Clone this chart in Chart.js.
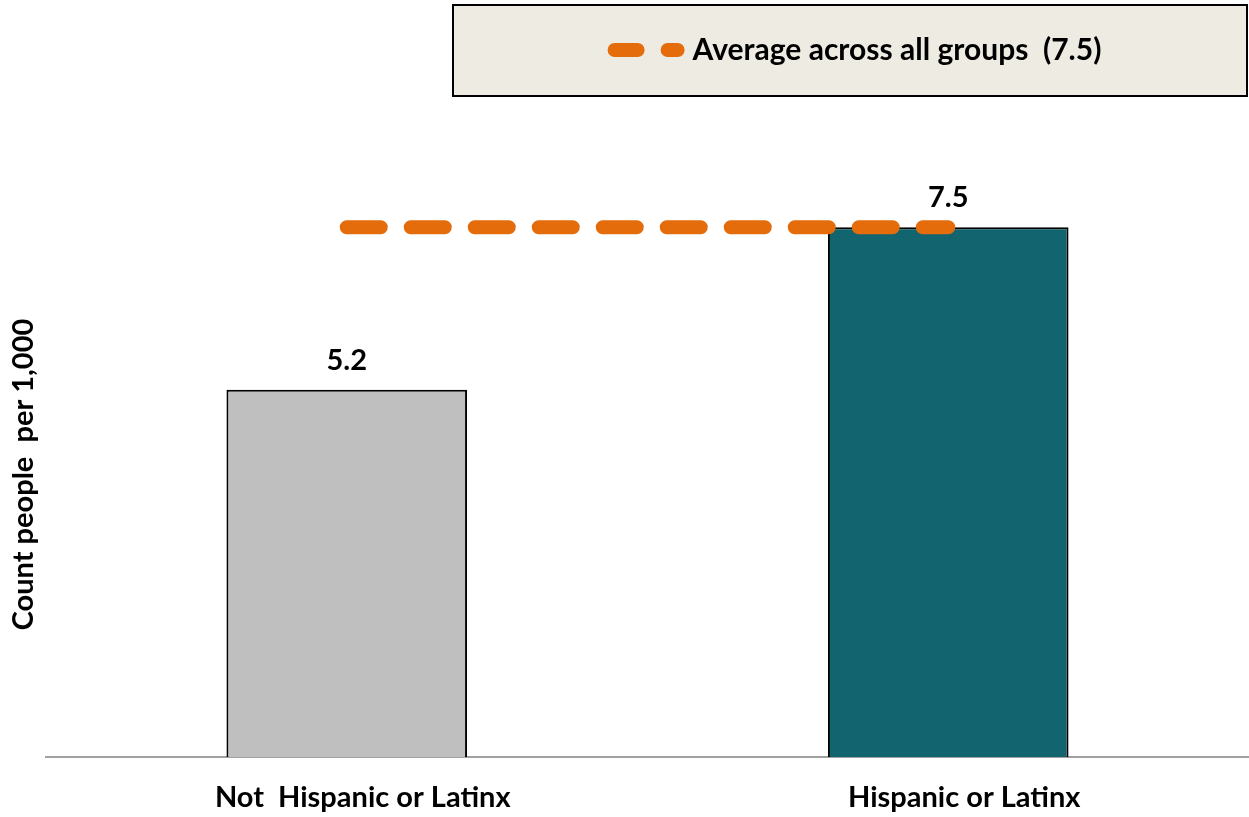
<!DOCTYPE html>
<html>
<head>
<meta charset="utf-8">
<script src="https://cdn.jsdelivr.net/npm/chart.js@4.4.1/dist/chart.umd.min.js"></script>
<style>
  html, body { margin: 0; padding: 0; background: #fff; }
  canvas { display: block; }
</style>
</head>
<body>
<canvas id="chart" width="1249" height="817"></canvas>
<script>
const categories = ['Not  Hispanic or Latinx', 'Hispanic or Latinx'];
const rates = [5.2, 7.5];
const averageRate = 7.5;
const barColors = ['#BFBFBF', '#12646F'];
const averageLabel = 'Average across all groups  (' + averageRate + ')';

const FONT = "Lato, 'Noto Sans', sans-serif";
const ORANGE = '#E46C0A';

// legend lives in a shaded box in the top right corner
const legendBox = {
  id: 'legendBox',
  afterLayout(chart) {
    const lg = chart.legend;
    lg.left = 469;
    lg.right = 1247;
    lg.top = 5;
    lg.bottom = 96;
  },
  beforeDraw(chart) {
    const ctx = chart.ctx;
    ctx.save();
    ctx.fillStyle = '#EEEBE3';
    ctx.fillRect(453, 5, 794, 91);
    ctx.strokeStyle = '#000';
    ctx.lineWidth = 2;
    ctx.strokeRect(453, 5, 794, 91);
    ctx.restore();
  }
};

// value printed above each bar
const valueLabels = {
  id: 'valueLabels',
  afterDatasetsDraw(chart) {
    const ctx = chart.ctx;
    const meta = chart.getDatasetMeta(1);
    ctx.save();
    ctx.font = 'bold 29px ' + FONT;
    ctx.fillStyle = '#000';
    ctx.textAlign = 'center';
    ctx.textBaseline = 'alphabetic';
    meta.data.forEach((bar, i) => {
      ctx.fillText(rates[i].toFixed(1), bar.x, bar.y - 20);
    });
    ctx.restore();
  }
};

new Chart(document.getElementById('chart'), {
  data: {
    labels: categories,
    datasets: [
      {
        type: 'line',
        label: averageLabel,
        data: categories.map(() => averageRate),
        borderColor: ORANGE,
        backgroundColor: ORANGE,
        borderWidth: 14,
        borderDash: [34, 30],
        borderCapStyle: 'round',
        pointRadius: 0,
        order: 0
      },
      {
        type: 'bar',
        label: 'Rate',
        data: rates,
        backgroundColor: barColors,
        borderColor: '#000',
        borderWidth: 2,
        categoryPercentage: 1,
        barPercentage: 0.4,
        order: 1
      }
    ]
  },
  options: {
    responsive: false,
    animation: false,
    layout: { padding: { top: 122, right: 0, bottom: 0, left: 0 } },
    plugins: {
      tooltip: { enabled: false },
      legend: {
        labels: {
          usePointStyle: true,
          pointStyle: 'line',
          pointStyleWidth: 63,
          padding: 30,
          color: '#000',
          font: { family: FONT, size: 30, weight: 'bold' },
          filter: (item) => item.datasetIndex === 0,
          generateLabels: (chart) => {
            const items = Chart.defaults.plugins.legend.labels.generateLabels(chart);
            items.forEach((item) => {
              item.lineDash = [23, 30];
              item.lineCap = 'round';
              item.lineWidth = 14;
              item.strokeStyle = ORANGE;
            });
            return items;
          }
        }
      }
    },
    scales: {
      x: {
        afterFit: (scale) => {
          scale.height = 60;
        },
        grid: { display: true, color: 'transparent', drawTicks: false, drawOnChartArea: false },
        border: { display: true, color: '#A0A0A0', width: 2 },
        ticks: {
          color: '#000',
          font: { family: FONT, size: 29, weight: 'bold' },
          padding: 23.6,
          labelOffset: 16
        }
      },
      y: {
        min: 0,
        max: 8,
        grid: { display: false, drawTicks: false },
        border: { display: false },
        ticks: { display: false },
        title: {
          display: true,
          text: 'Count people  per 1,000',
          color: '#000',
          font: { family: FONT, size: 29, weight: 'bold' },
          padding: { top: 6.6, bottom: 4.6 }
        }
      }
    }
  },
  plugins: [legendBox, valueLabels]
});
</script>
</body>
</html>
